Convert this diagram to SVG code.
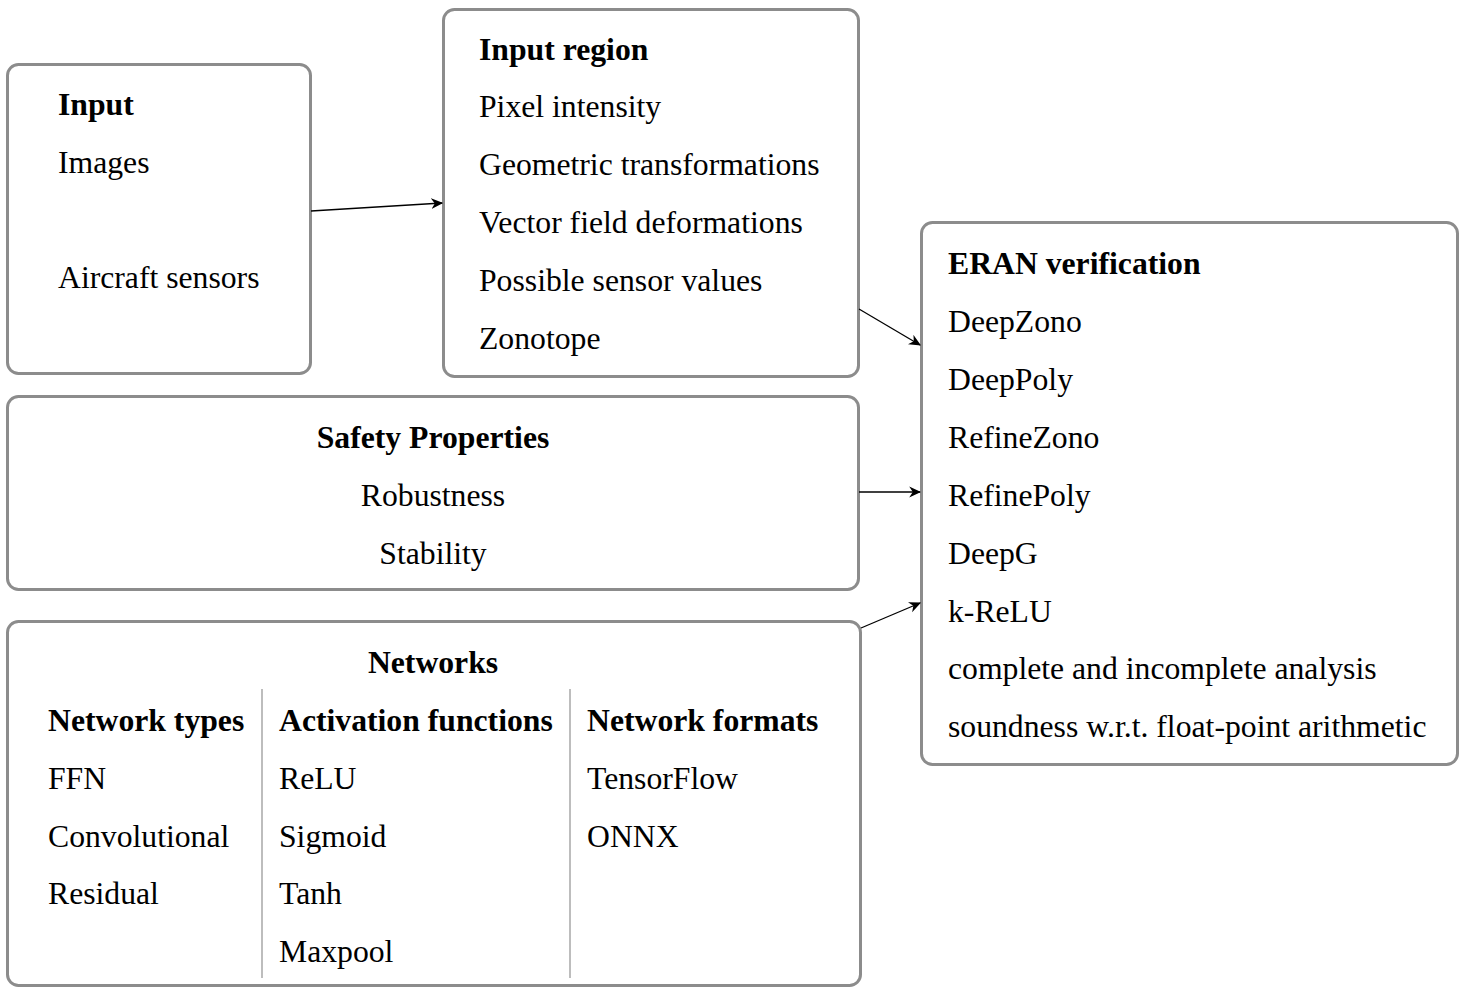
<svg xmlns="http://www.w3.org/2000/svg" width="1465" height="987" viewBox="0 0 1465 987">
  <style>
    .box { fill: #ffffff; stroke: #8c8c8c; stroke-width: 3; }
    .t { font-family: "Liberation Serif", "Times New Roman", serif; font-size: 31.7px; fill: #000; }
    .b { font-weight: bold; }
    .c { text-anchor: middle; }
    .edge { stroke: #000; stroke-width: 1.3; fill: none; marker-end: url(#arr); }
    .div { stroke: #9a9a9a; stroke-width: 1.3; }
  </style>
  <defs>
    <marker id="arr" viewBox="0 0 10 10" refX="9" refY="5" markerWidth="12" markerHeight="12" markerUnits="userSpaceOnUse" orient="auto">
      <path d="M0,0.5 L10,5 L0,9.5 L3,5 Z" fill="#000"/>
    </marker>
  </defs>
  <rect width="1465" height="987" fill="#ffffff"/>

  <g id="input">
    <rect class="box" x="7.5" y="64.5" width="303" height="309" rx="11"/>
    <text class="t b" x="58" y="115">Input</text>
    <text class="t" x="58" y="173">Images</text>
    <text class="t" x="58" y="288">Aircraft sensors</text>
  </g>

  <g id="input-region">
    <rect class="box" x="443.5" y="9.5" width="415" height="367" rx="11"/>
    <text class="t b" x="479" y="60">Input region</text>
    <text class="t" x="479" y="117">Pixel intensity</text>
    <text class="t" x="479" y="175">Geometric transformations</text>
    <text class="t" x="479" y="233">Vector field deformations</text>
    <text class="t" x="479" y="291">Possible sensor values</text>
    <text class="t" x="479" y="349">Zonotope</text>
  </g>

  <g id="safety">
    <rect class="box" x="7.5" y="396.5" width="851" height="193" rx="11"/>
    <text class="t b c" x="433" y="448">Safety Properties</text>
    <text class="t c" x="433" y="506">Robustness</text>
    <text class="t c" x="433" y="564">Stability</text>
  </g>

  <g id="networks">
    <rect class="box" x="7.5" y="621.5" width="853" height="364" rx="11"/>
    <text class="t b c" x="433" y="673">Networks</text>
    <line class="div" x1="262" y1="689" x2="262" y2="978"/>
    <line class="div" x1="570" y1="689" x2="570" y2="978"/>
    <text class="t b" x="48" y="731">Network types</text>
    <text class="t" x="48" y="789">FFN</text>
    <text class="t" x="48" y="847">Convolutional</text>
    <text class="t" x="48" y="904">Residual</text>
    <text class="t b" x="279" y="731">Activation functions</text>
    <text class="t" x="279" y="789">ReLU</text>
    <text class="t" x="279" y="847">Sigmoid</text>
    <text class="t" x="279" y="904">Tanh</text>
    <text class="t" x="279" y="962">Maxpool</text>
    <text class="t b" x="587" y="731">Network formats</text>
    <text class="t" x="587" y="789">TensorFlow</text>
    <text class="t" x="587" y="847">ONNX</text>
  </g>

  <g id="eran">
    <rect class="box" x="921.5" y="222.5" width="536" height="542" rx="11"/>
    <text class="t b" x="948" y="274">ERAN verification</text>
    <text class="t" x="948" y="332">DeepZono</text>
    <text class="t" x="948" y="390">DeepPoly</text>
    <text class="t" x="948" y="448">RefineZono</text>
    <text class="t" x="948" y="506">RefinePoly</text>
    <text class="t" x="948" y="564">DeepG</text>
    <text class="t" x="948" y="622">k-ReLU</text>
    <text class="t" x="948" y="679">complete and incomplete analysis</text>
    <text class="t" x="948" y="737">soundness w.r.t. float-point arithmetic</text>
  </g>

  <g id="connectors">
    <line class="edge" x1="311" y1="211" x2="442" y2="203"/>
    <line class="edge" x1="859" y1="309" x2="920" y2="345"/>
    <line class="edge" x1="859" y1="492" x2="920" y2="492"/>
    <line class="edge" x1="861" y1="628" x2="920" y2="603"/>
  </g>
</svg>
